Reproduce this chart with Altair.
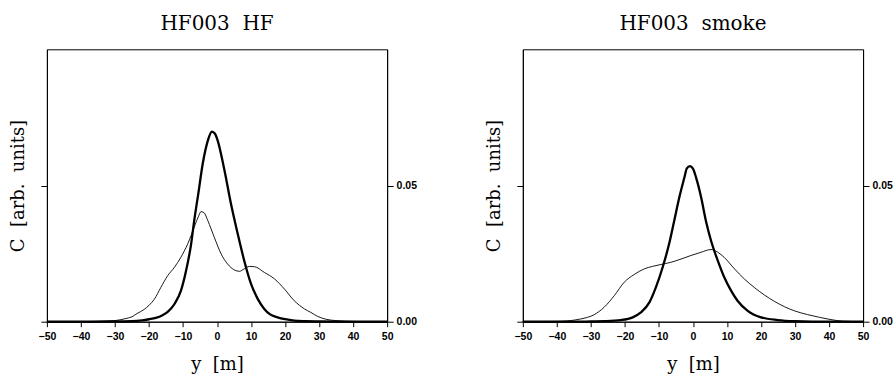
import altair as alt
import pandas as pd

# ---- data ----
hf_thick_x = [-50, -40, -30, -25, -22, -20, -18, -16, -14.5, -12.5, -10.6, -9.1, -7.6, -6.7, -5.5, -4.2,
              -2.7, -1.5, -0.6, 0.2, 2.2, 4.1, 6.1, 8.0, 10, 12, 13.9, 15.5, 17.8, 20, 22.7, 26, 30, 40, 50]
hf_thick_c = [0, 0, 0.0001, 0.0002, 0.0005, 0.0009, 0.0014, 0.0024, 0.0036, 0.0065, 0.0114, 0.0187, 0.0286,
              0.0371, 0.047, 0.058, 0.0665, 0.0698, 0.069, 0.0665, 0.0555, 0.0433, 0.0322, 0.0224, 0.0139,
              0.0083, 0.0047, 0.0028, 0.0016, 0.0009, 0.0004, 0.0002, 0.0001, 0, 0]

hf_thin_x = [-50, -40, -35, -30, -27, -25, -23.5, -21.4, -20, -18.4, -16.5, -14.5, -12.5, -10.6, -8.6, -6.7,
             -5.5, -4.7, -3.8, -2.7, -0.8, 1.2, 3.1, 5.1, 6.6, 8.0, 9.5, 11, 13.9, 16.9, 19.8, 22.7, 25.7,
             27.6, 29.5, 32, 35, 40, 45, 50]
hf_thin_c = [0, 0, 0.0001, 0.0004, 0.0011, 0.0018, 0.003, 0.0045, 0.006, 0.0083, 0.0126, 0.0169, 0.020,
             0.0237, 0.0286, 0.0347, 0.0385, 0.0404, 0.040, 0.0371, 0.031, 0.0249, 0.0212, 0.019, 0.0185,
             0.0194, 0.0203, 0.0202, 0.0181, 0.0157, 0.012, 0.0077, 0.0047, 0.0034, 0.002, 0.0009, 0.0004,
             0.0001, 0, 0]

sm_thick_x = [-50, -35, -30, -26, -21.2, -17.7, -15.3, -12.8, -10.9, -8.9, -7, -5.5, -4, -2.5, -1.8, -0.9,
              0, 0.9, 2.4, 3.8, 5.3, 7.3, 9.2, 11.2, 13.1, 16.1, 20, 24.9, 30, 40, 50]
sm_thick_c = [0, 0, 0.0001, 0.0002, 0.0006, 0.0016, 0.0034, 0.0071, 0.0126, 0.020, 0.0286, 0.0371, 0.0457,
              0.053, 0.0563, 0.0571, 0.0562, 0.053, 0.0457, 0.0371, 0.0298, 0.0224, 0.0163, 0.0114, 0.0077,
              0.004, 0.0016, 0.0006, 0.0002, 0, 0]

sm_thin_x = [-50, -40, -36.9, -33, -29, -26.1, -23.1, -20.2, -17.3, -14.3, -11.9, -9.4, -6.5, -3.5, -0.6,
             2.4, 5.3, 7.3, 9.2, 12.2, 15.1, 18, 21, 23.9, 26.9, 29.8, 33.7, 37.2, 40, 44, 50]
sm_thin_c = [0, 0.0001, 0.0003, 0.001, 0.0026, 0.0053, 0.0096, 0.0145, 0.0173, 0.0194, 0.0203, 0.021, 0.0218,
             0.023, 0.0243, 0.0255, 0.0265, 0.0255, 0.0236, 0.0194, 0.0157, 0.0126, 0.0098, 0.0075, 0.0055,
             0.004, 0.0026, 0.0016, 0.0009, 0.0002, 0]

x_ticks = list(range(-50, 51, 10))
y_ticks = [0.0, 0.05]
titles = ["HF003\u00a0\u00a0HF", "HF003\u00a0\u00a0smoke"]

SERIF = "DejaVu Serif"
SANS = "Liberation Sans"
W, H = 341, 273


def panel(title, tx, tc, nx, nc):
    thick = pd.DataFrame({"y": tx, "C": tc})
    thin = pd.DataFrame({"y": nx, "C": nc})
    xenc = alt.X("y:Q", scale=alt.Scale(domain=[-50, 50], nice=False, zero=False),
                 axis=alt.Axis(values=x_ticks, title="y\u00a0\u00a0[m]", grid=False, tickSize=5,
                               labelFont=SANS, labelFontWeight="bold", labelFontSize=10.5,
                               labelPadding=5, labelColor="black",
                               titleFont=SERIF, titleFontSize=18, titleFontWeight="normal",
                               titlePadding=13, titleColor="black",
                               domainColor="black", tickColor="black", labelFlush=False))
    yscale = alt.Scale(domain=[0, 0.1], nice=False)
    left = alt.Chart(thick).mark_line(color="black", strokeWidth=2.3, interpolate="monotone").encode(
        x=xenc,
        y=alt.Y("C:Q", scale=yscale,
                axis=alt.Axis(orient="left", values=y_ticks, labels=False, grid=False, tickSize=6,
                              title="C\u00a0\u00a0[arb.\u00a0\u00a0units]", titleFont=SERIF, titleFontSize=18,
                              titleFontWeight="normal", titlePadding=13, titleColor="black",
                              domainColor="black", tickColor="black")),
    )
    right = alt.Chart(thin).mark_line(color="black", strokeWidth=0.9, interpolate="monotone").encode(
        x=xenc,
        y=alt.Y("C:Q", scale=yscale,
                axis=alt.Axis(orient="right", values=y_ticks, format=".2f", grid=False, tickSize=6,
                              labelFont=SANS, labelFontWeight="bold", labelFontSize=10.5,
                              labelPadding=3, labelColor="black", title=None,
                              domainColor="black", tickColor="black")),
    )
    return alt.layer(left, right).resolve_axis(y="independent").properties(
        width=W, height=H,
        title=alt.Title(title, font=SERIF, fontSize=20, fontWeight="normal", color="black", offset=15),
    )


chart = alt.hconcat(
    panel(titles[0], hf_thick_x, hf_thick_c, hf_thin_x, hf_thin_c),
    panel(titles[1], sm_thick_x, sm_thick_c, sm_thin_x, sm_thin_c),
    spacing=68,
).properties(
    padding={"left": 9, "top": 13, "right": 0, "bottom": 0},
    background="white",
).configure_view(stroke="black", strokeWidth=1)

chart.save("out.html", embed_options={"renderer": "svg", "actions": False})
